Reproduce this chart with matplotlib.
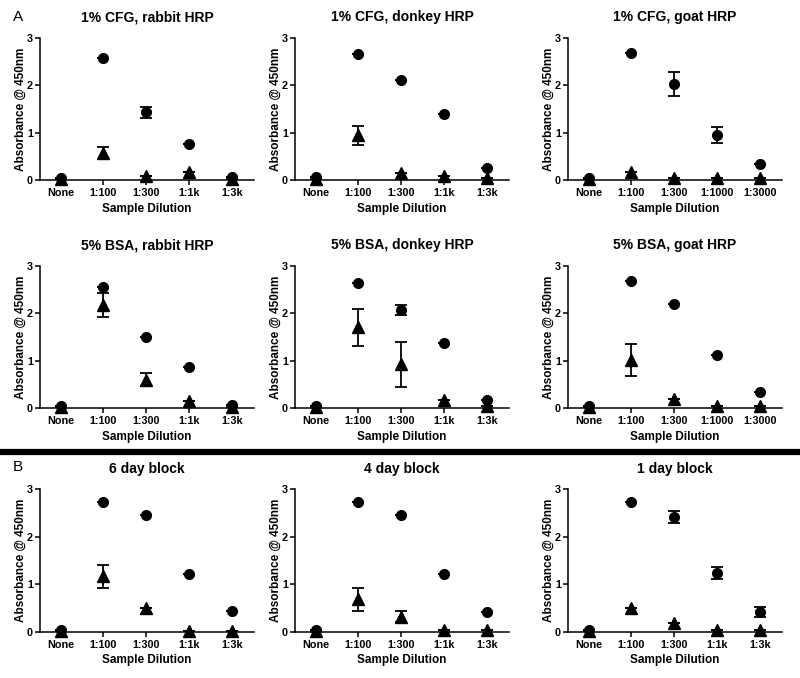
import matplotlib
matplotlib.use("Agg")
import matplotlib.pyplot as plt
from matplotlib.lines import Line2D

plt.rcParams['font.family'] = ['Liberation Sans', 'DejaVu Sans']
plt.rcParams['font.weight'] = 'bold'

# ─── data ─────────────────────────────────────────────────────
labels_short = ["None", "1:100", "1:300", "1:1k", "1:3k"]
labels_long  = ["None", "1:100", "1:300", "1:1000", "1:3000"]

titles = ["1% CFG, rabbit HRP", "1% CFG, donkey HRP", "1% CFG, goat HRP",
          "5% BSA, rabbit HRP", "5% BSA, donkey HRP", "5% BSA, goat HRP",
          "6 day block", "4 day block", "1 day block"]
tick_sets = [labels_short, labels_short, labels_long,
             labels_short, labels_short, labels_long,
             labels_short, labels_short, labels_short]

circ_1 = [0.05, 2.58, 1.43, 0.77, 0.07]
circ_1_err = [0, 0, 0.12, 0, 0]
tri_1 = [0.03, 0.57, 0.08, 0.18, 0.02]
tri_1_err = [0, 0.12, 0, 0, 0]

circ_2 = [0.06, 2.66, 2.10, 1.39, 0.25]
circ_2_err = [0, 0, 0, 0, 0]
tri_2 = [0.03, 0.94, 0.16, 0.08, 0.04]
tri_2_err = [0, 0.19, 0, 0, 0]

circ_3 = [0.05, 2.68, 2.02, 0.95, 0.34]
circ_3_err = [0, 0, 0.25, 0.16, 0]
tri_3 = [0.02, 0.18, 0.04, 0.04, 0.04]
tri_3_err = [0, 0, 0, 0, 0]

circ_4 = [0.04, 2.56, 1.50, 0.87, 0.06]
circ_4_err = [0, 0, 0, 0, 0]
tri_4 = [0.02, 2.17, 0.60, 0.15, 0.02]
tri_4_err = [0, 0.25, 0.13, 0, 0]

circ_5 = [0.04, 2.63, 2.07, 1.37, 0.17]
circ_5_err = [0, 0, 0.10, 0, 0]
tri_5 = [0.02, 1.70, 0.92, 0.18, 0.04]
tri_5_err = [0, 0.39, 0.47, 0, 0]

circ_6 = [0.04, 2.68, 2.20, 1.12, 0.33]
circ_6_err = [0, 0, 0, 0, 0]
tri_6 = [0.02, 1.01, 0.20, 0.04, 0.04]
tri_6_err = [0, 0.33, 0, 0, 0]

circ_7 = [0.04, 2.74, 2.45, 1.22, 0.44]
circ_7_err = [0, 0, 0, 0, 0]
tri_7 = [0.02, 1.17, 0.50, 0.02, 0.02]
tri_7_err = [0, 0.24, 0, 0, 0]

circ_8 = [0.04, 2.73, 2.45, 1.22, 0.41]
circ_8_err = [0, 0, 0, 0, 0]
tri_8 = [0.02, 0.68, 0.32, 0.03, 0.03]
tri_8_err = [0, 0.24, 0.12, 0, 0]

circ_9 = [0.04, 2.73, 2.42, 1.24, 0.41]
circ_9_err = [0, 0, 0.12, 0.12, 0.11]
tri_9 = [0.02, 0.49, 0.18, 0.03, 0.03]
tri_9_err = [0, 0, 0, 0, 0]

circles = [circ_1, circ_2, circ_3, circ_4, circ_5, circ_6, circ_7, circ_8, circ_9]
circle_errs = [circ_1_err, circ_2_err, circ_3_err, circ_4_err, circ_5_err,
               circ_6_err, circ_7_err, circ_8_err, circ_9_err]
triangles = [tri_1, tri_2, tri_3, tri_4, tri_5, tri_6, tri_7, tri_8, tri_9]
triangle_errs = [tri_1_err, tri_2_err, tri_3_err, tri_4_err, tri_5_err,
                 tri_6_err, tri_7_err, tri_8_err, tri_9_err]

# ─── layout (pixels) ──────────────────────────────────────────
W, H = 800, 678
col_left = [40, 295, 568]
ax_w = 214
row_top = [37.7, 265.7, 489.3]
ax_h = 142.4

fig = plt.figure(figsize=(W / 100, H / 100), dpi=100)

for i in range(9):
    r, c = divmod(i, 3)
    ax = fig.add_axes([col_left[c] / W, 1 - (row_top[r] + ax_h) / H, ax_w / W, ax_h / H])
    x = list(range(5))

    ax.errorbar(x, triangles[i], yerr=triangle_errs[i], fmt='^', color='black',
                ms=8, capsize=4, elinewidth=1.3, capthick=1.3, clip_on=False, zorder=3)
    ax.errorbar(x, circles[i], yerr=circle_errs[i], fmt='o', color='black',
                ms=7, capsize=4, elinewidth=1.3, capthick=1.3, clip_on=False, zorder=4)

    ax.set_xlim(-0.48, 4.52)
    ax.set_ylim(0, 3)
    ax.set_yticks([0, 1, 2, 3])
    ax.set_xticks(x)
    ax.set_xticklabels(tick_sets[i])
    ax.tick_params(axis='both', labelsize=7.8, width=1.1, length=3.5)
    ax.tick_params(axis='y', pad=1.5)
    ax.tick_params(axis='x', pad=2.5)
    for spine in ['top', 'right']:
        ax.spines[spine].set_visible(False)
    for spine in ['left', 'bottom']:
        ax.spines[spine].set_linewidth(1.1)
    ax.set_xlabel('Sample Dilution', fontsize=8.5, fontweight='bold', labelpad=3)
    ax.set_ylabel('Absorbance @ 450nm', fontsize=8.5, fontweight='bold', labelpad=0)
    ax.set_title(titles[i], fontsize=10, fontweight='bold', pad=12)

# panel letters
fig.text(13 / W, 1 - 17 / H, 'A', fontsize=11, fontweight='normal', va='center', ha='left')
fig.text(13 / W, 1 - 467 / H, 'B', fontsize=11, fontweight='normal', va='center', ha='left')

# thick separator between sections
fig.add_artist(Line2D([0, 1], [1 - 452 / H, 1 - 452 / H], color='black', lw=4.5,
                      transform=fig.transFigure))

fig.savefig('out.png', dpi=100, facecolor='white')
